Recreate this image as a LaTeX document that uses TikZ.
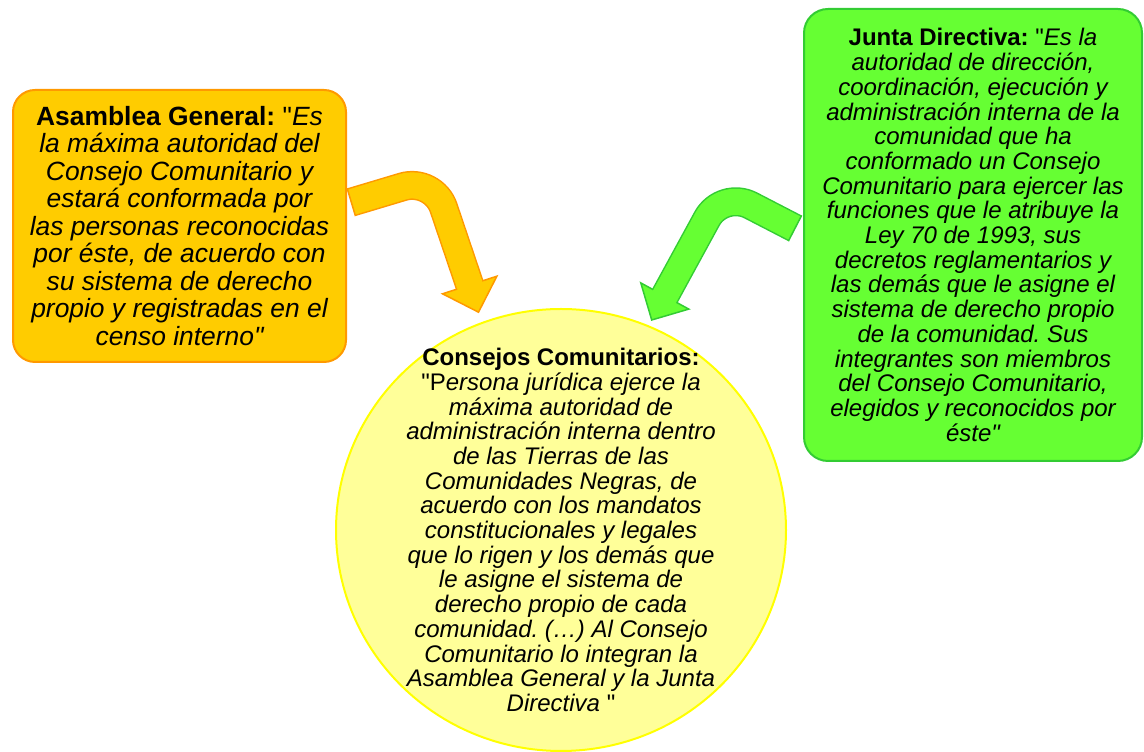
\documentclass[tikz,border=0pt]{standalone}
\usepackage{fontspec}
\setmainfont{Liberation Sans}
\frenchspacing
\usetikzlibrary{positioning,calc}
\usetikzlibrary{shapes.geometric}
\definecolor{agfill}{HTML}{FFCC00}
\definecolor{agborder}{HTML}{FF9900}
\definecolor{jdfill}{HTML}{66FF33}
\definecolor{jdborder}{HTML}{33CC33}
\definecolor{ccfill}{HTML}{FFFF99}
\definecolor{ccborder}{HTML}{FFFF00}
\tikzset{
	asamblea/.style={draw=agborder,line width=2pt,fill=agfill,rectangle,rounded corners=22pt,minimum width=333pt,minimum height=272pt,anchor=center,align=center,font=\fontsize{26.4}{27.5}\selectfont\itshape},
	junta/.style={draw=jdborder,line width=2pt,fill=jdfill,rectangle,rounded corners=24pt,minimum width=338pt,minimum height=452pt,anchor=center,align=center,font=\fontsize{24}{24.7}\selectfont\itshape},
	consejo/.style={draw=ccborder,line width=2pt,fill=ccfill,ellipse,minimum width=450pt,minimum height=442pt,inner sep=0pt},
	consejotext/.style={anchor=center,align=center,font=\fontsize{24}{24.7}\selectfont\itshape},
	bendshaft/.style={line width=1.5pt,double distance=26pt,rounded corners=32pt},
	bendhead/.style={line width=1.5pt,line join=miter},
}

\begin{document}
\begin{tikzpicture}[x=1pt,y=1pt]
	\path[use as bounding box] (0,0) rectangle (1144,752);
	
	% Boxes
	\node[asamblea] (asamblea) at (179.5,526) {\textbf{\upshape Asamblea General:} \textup{\textquotedbl}Es\\
		la máxima autoridad del\\
		Consejo Comunitario y\\
		estará conformada por\\
		las personas reconocidas\\
		por éste, de acuerdo con\\
		su sistema de derecho\\
		propio y registradas en el\\
		censo interno\textquotedbl};
	
	\node[junta] (junta) at (973,517) {\textbf{\upshape Junta Directiva:} \textup{\textquotedbl}Es la\\
		autoridad de dirección,\\
		coordinación, ejecución y\\
		administración interna de la\\
		comunidad que ha\\
		conformado un Consejo\\
		Comunitario para ejercer las\\
		funciones que le atribuye la\\
		Ley 70 de 1993, sus\\
		decretos reglamentarios y\\
		las demás que le asigne el\\
		sistema de derecho propio\\
		de la comunidad. Sus\\
		integrantes son miembros\\
		del Consejo Comunitario,\\
		elegidos y reconocidos por\\
		éste\textquotedbl};
	
	% Circle
	\node[consejo] (consejo) at (561,222) {};
	\node[consejotext] (consejotxt) at (consejo.center) {\textbf{\upshape Consejos Comunitarios:}\\
		\textup{\textquotedbl P}ersona jurídica ejerce la\\
		máxima autoridad de\\
		administración interna dentro\\
		de las Tierras de las\\
		Comunidades Negras, de\\
		acuerdo con los mandatos\\
		constitucionales y legales\\
		que lo rigen y los demás que\\
		le asigne el sistema de\\
		derecho propio de cada\\
		comunidad. (…) Al Consejo\\
		Comunitario lo integran la\\
		Asamblea General y la Junta\\
		Directiva \textup{\textquotedbl}};
	
	% Asamblea -> Consejo
	\coordinate (agtail) at (351.3,549.8);
	\coordinate (agbend) at (433.4,574.4);
	\coordinate (agbase) at (469.7,467);
	\coordinate (agtip) at (478.5,439.8);
	\draw[bendshaft,draw=agborder,double=agfill] (agtail) -- (agbend) -- (agbase);
	\draw[bendhead,draw=agborder,fill=agfill] ($(agbase)!1!90:(agtip)$) -- (agtip) -- ($(agbase)!1!-90:(agtip)$) -- cycle;
	\draw[agfill,line width=26pt] ($(agbase)!-2pt!(agtip)$) -- ($(agbase)!3pt!(agtip)$);
	\draw[agborder,line width=1.5pt] ($(agtail)!14.5pt!90:(agbend)$) -- ($(agtail)!14.5pt!-90:(agbend)$);
	
	% Junta -> Consejo
	\coordinate (jdtail) at (795,523.7);
	\coordinate (jdbend) at (722.3,561.3);
	\coordinate (jdbase) at (664.8,456);
	\coordinate (jdtip) at (651.7,432);
	\draw[bendshaft,draw=jdborder,double=jdfill] (jdtail) -- (jdbend) -- (jdbase);
	\draw[bendhead,draw=jdborder,fill=jdfill] ($(jdbase)!1!90:(jdtip)$) -- (jdtip) -- ($(jdbase)!1!-90:(jdtip)$) -- cycle;
	\draw[jdfill,line width=26pt] ($(jdbase)!-2pt!(jdtip)$) -- ($(jdbase)!3pt!(jdtip)$);
	\draw[jdborder,line width=1.5pt] ($(jdtail)!14.5pt!90:(jdbend)$) -- ($(jdtail)!14.5pt!-90:(jdbend)$);
	
\end{tikzpicture}
\end{document}
